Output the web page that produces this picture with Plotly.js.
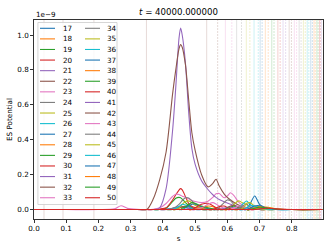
<!DOCTYPE html>
<html><head><meta charset="utf-8">
<script src="https://cdn.plot.ly/plotly-3.0.1.min.js"></script>
<style>html,body{margin:0;padding:0;background:#fff;}#chart{width:332px;height:249px;}</style>
</head><body><div id="chart"></div>
<script>
// arc-length coordinate s (shared grid)
const S = [0.00,0.10,0.20,0.25,0.27,0.29,0.32,0.35, 0.37,0.39,0.41,0.43,0.44,0.45,0.455,0.46,0.47,0.48,0.49, 0.50,0.52,0.54,0.555,0.565,0.575,0.59,0.60,0.61,0.62,0.635, 0.65,0.66,0.67,0.685,0.70,0.72,0.75,0.80,0.895];
// ES potential per series, in units of 1e-9
const Y17 = [0,0,0,0,0,0,0,0, 0,0,0.003,0.008,0.012,0.015,0.016,0.015,0.012,0.008,0.004, 0,0,0,0,0,0,0,0,0,0,0, 0,0,0,0,0,0,0,0,0];
const Y18 = [0,0,0,0,0,0,0,0, 0,0,0,0,0.004,0.008,0.01,0.013,0.018,0.015,0.01, 0.005,0,0,0,0,0,0,0,0,0,0, 0,0,0,0,0,0,0,0,0];
const Y19 = [0,0,0,0,0,0,0,0, 0,0,0.008,0.045,0.065,0.07,0.068,0.06,0.04,0.022,0.012, 0.006,0.003,0,0,0,0,0,0,0,0,0, 0,0,0,0,0,0,0,0,0];
const Y20 = [0,0,0,0,0,0,0,0, 0,0.003,0.01,0.055,0.085,0.112,0.12,0.113,0.075,0.035,0.018, 0.012,0.008,0.005,0.003,0,0,0,0,0,0,0, 0,0,0,0,0,0,0,0,0];
const Y21 = [0,0,0,0,0,0,0,0, 0,0,0,0.005,0.01,0.018,0.02,0.018,0.012,0.006,0, 0,0,0,0,0,0,0,0,0,0,0, 0,0,0,0,0,0,0,0,0];
const Y22 = [0,0,0,0,0,0,0,0, 0,0,0,0,0,0.01,0.013,0.016,0.02,0.018,0.01, 0.005,0,0,0,0,0,0,0,0,0,0, 0,0,0,0,0,0,0,0,0];
const Y23 = [0,0,0,0.004,0.022,0.007,0.001,0, 0.002,0.01,0.035,0.075,0.088,0.086,0.082,0.077,0.07,0.062,0.052, 0.046,0.04,0.048,0.07,0.09,0.092,0.068,0.078,0.096,0.082,0.042, 0.02,0.01,0.005,0.002,0,0,0,0,0];
const Y24 = [0,0,0,0,0,0,0,0, 0,0,0,0.008,0.015,0.03,0.04,0.052,0.068,0.066,0.05, 0.032,0.014,0.005,0,0,0,0,0,0,0,0, 0,0,0,0,0,0,0,0,0];
const Y25 = [0,0,0,0,0,0,0,0, 0,0,0,0,0,0.01,0.018,0.03,0.045,0.05,0.04, 0.025,0.01,0.003,0,0,0,0,0,0,0,0, 0,0,0,0,0,0,0,0,0];
const Y26 = [0,0,0,0,0,0,0,0, 0,0,0,0,0.008,0.018,0.024,0.03,0.026,0.016,0.008, 0.004,0,0,0,0,0,0,0,0,0,0, 0,0,0,0,0,0,0,0,0];
const Y27 = [0,0,0,0,0,0,0,0, 0,0,0,0,0,0,0,0,0.01,0.02,0.03, 0.032,0.016,0.005,0,0,0,0,0,0,0,0, 0,0,0,0,0,0,0,0,0];
const Y28 = [0,0,0,0,0,0,0,0, 0,0,0,0,0,0,0,0,0,0,0, 0.004,0.01,0.02,0.016,0.008,0.003,0,0,0,0,0, 0,0,0,0,0,0,0,0,0];
const Y29 = [0,0,0,0,0,0,0,0, 0,0,0,0,0,0,0,0.008,0.015,0.03,0.04, 0.036,0.02,0.01,0.004,0,0,0,0,0,0,0, 0,0,0,0,0,0,0,0,0];
const Y30 = [0,0,0,0,0,0,0,0, 0,0,0,0,0,0,0,0,0,0,0, 0.01,0.03,0.036,0.022,0.012,0.005,0,0,0,0,0, 0,0,0,0,0,0,0,0,0];
const Y31 = [0,0,0,0,0,0,0,0, 0,0.01,0.12,0.45,0.70,0.98,1.04,1.00,0.84,0.56,0.35, 0.26,0.165,0.115,0.085,0.07,0.058,0.045,0.038,0.03,0.025,0.018, 0.013,0.01,0.007,0.004,0.002,0,0,0,0];
const Y32 = [0,0,0,0,0,0,0,0, 0.06,0.17,0.33,0.66,0.80,0.92,0.945,0.93,0.83,0.63,0.44, 0.34,0.20,0.13,0.15,0.174,0.135,0.09,0.07,0.055,0.042,0.026, 0.015,0.01,0.006,0.003,0,0,0,0,0];
const Y33 = [0,0,0,0,0,0,0,0, 0,0,0,0,0,0,0,0,0,0,0, 0,0.01,0.03,0.04,0.032,0.02,0.008,0,0,0,0, 0,0,0,0,0,0,0,0,0];
const Y34 = [0,0,0,0,0,0,0,0, 0,0,0,0,0,0,0,0,0,0,0, 0,0,0,0,0.004,0.012,0.04,0.055,0.05,0.03,0.01, 0.003,0,0,0,0,0,0,0,0];
const Y35 = [0,0,0,0,0,0,0,0, 0,0,0,0,0,0,0,0,0,0,0, 0,0,0,0,0,0,0,0,0.01,0.028,0.05, 0.036,0.03,0.015,0.005,0,0,0,0,0];
const Y36 = [0,0,0,0,0,0,0,0, 0,0,0,0,0,0,0,0,0,0,0, 0,0,0,0,0,0,0,0,0,0,0.01, 0.035,0.049,0.03,0.01,0.003,0,0,0,0];
const Y37 = [0,0,0,0,0,0,0,0, 0,0,0,0,0,0,0,0,0,0,0, 0,0,0,0,0,0,0,0,0,0,0, 0,0.005,0.03,0.078,0.03,0.006,0,0,0];
const Y38 = [0,0,0,0,0,0,0,0, 0,0,0,0,0,0,0,0,0,0,0, 0,0,0,0,0,0,0,0,0,0,0, 0,0,0,0.01,0.02,0.01,0.002,0,0];
const Y39 = [0,0,0,0,0,0,0,0, 0,0,0,0,0,0,0,0,0,0,0, 0,0,0,0,0,0,0,0.008,0.015,0.02,0.014, 0.005,0,0,0,0,0,0,0,0];
const Y40 = [0,0,0,0,0,0,0,0, 0,0,0,0,0,0,0,0,0,0,0, 0,0,0,0,0.008,0.018,0.02,0.012,0.005,0,0, 0,0,0,0,0,0,0,0,0];
const Y41 = [0,0,0,0,0,0,0,0, 0,0,0,0,0,0,0,0,0,0,0, 0,0,0,0,0,0,0.008,0.012,0.015,0.01,0.004, 0,0,0,0,0,0,0,0,0];
const Y42 = [0,0,0,0,0,0,0,0, 0,0,0,0,0,0,0,0,0,0,0, 0,0,0,0,0,0,0,0.012,0.02,0.025,0.012, 0.004,0,0,0,0,0,0,0,0];
const Y43 = [0,0,0,0,0,0,0,0, 0,0,0,0,0,0,0,0,0,0,0, 0,0,0,0,0,0,0,0,0,0.008,0.02, 0.016,0.006,0,0,0,0,0,0,0];
const Y44 = [0,0,0,0,0,0,0,0, 0,0,0,0,0,0,0,0,0,0,0, 0,0,0,0,0,0,0,0,0,0,0.008, 0.024,0.03,0.016,0.005,0,0,0,0,0];
const Y45 = [0,0,0,0,0,0,0,0, 0,0,0,0,0,0,0,0,0,0,0, 0,0,0,0,0,0,0,0,0,0,0, 0.01,0.035,0.04,0.02,0.008,0,0,0,0];
const Y46 = [0,0,0,0,0,0,0,0, 0,0,0,0,0,0,0,0,0,0,0, 0,0,0,0,0,0,0,0,0,0,0, 0,0.01,0.024,0.02,0.01,0.003,0,0,0];
const Y47 = [0,0,0,0,0,0,0,0, 0,0,0,0,0,0,0,0,0,0,0, 0,0,0,0,0,0,0,0,0,0,0, 0,0,0.008,0.02,0.025,0.01,0.002,0,0];
const Y48 = [0,0,0,0,0,0,0,0, 0,0,0,0,0,0,0,0,0,0,0, 0,0,0,0,0,0,0,0,0,0,0, 0,0,0,0.005,0.01,0.015,0.005,0,0];
const Y49 = [0,0,0,0,0,0,0,0, 0,0,0,0,0,0,0,0,0,0,0, 0,0,0,0,0,0,0,0,0,0,0, 0,0,0,0.008,0.014,0.01,0.003,0,0];
const Y50 = [0,0,0,0,0,0,0,0, 0,0,0,0,0,0,0,0,0,0,0, 0,0,0,0,0,0,0,0,0,0,0, 0,0,0,0,0.004,0.008,0.004,0,0];

const seriesNames = ['17','18','19','20','21','22','23','24','25','26','27','28','29','30','31','32','33',
                     '34','35','36','37','38','39','40','41','42','43','44','45','46','47','48','49','50'];
const seriesValues = [Y17,Y18,Y19,Y20,Y21,Y22,Y23,Y24,Y25,Y26,Y27,Y28,Y29,Y30,Y31,Y32,Y33,
                      Y34,Y35,Y36,Y37,Y38,Y39,Y40,Y41,Y42,Y43,Y44,Y45,Y46,Y47,Y48,Y49,Y50];
const palette = ['#1f77b4','#ff7f0e','#2ca02c','#d62728','#9467bd','#8c564b','#e377c2','#7f7f7f','#bcbd22','#17becf'];

// vertical marker lines: position, palette index, dashed flag
const vlineS = [0.031,0.090,0.186,0.349,
  0.536,0.570,0.594,0.614,0.629,0.644,0.659,0.670,0.683,0.696,
  0.702,0.708,0.718,0.727,0.738,0.745,0.757,0.764,0.773,0.781,
  0.792,0.799,0.808,0.815,0.823,0.829,0.836,0.842,0.848,0.853,
  0.859,0.864,0.869,0.873,0.878,0.882,0.886,0.889,0.892];
const vlineColor = [5,5,5,5,
  5,5,6,6,7,7,8,8,9,9,
  0,0,1,1,2,2,3,3,4,4,
  5,5,6,6,7,7,8,8,9,9,
  0,0,1,1,2,2,3,3,4];
const vlineDashed = [0,0,0,0,
  0,1,0,1,0,1,0,1,0,1,
  0,1,0,1,0,1,0,1,0,1,
  0,1,0,1,0,1,0,1,0,1,
  0,1,0,1,0,1,0,1,0];

const xTickVals = [0,0.1,0.2,0.3,0.4,0.5,0.6,0.7,0.8];
const xTickText = ['0.0','0.1','0.2','0.3','0.4','0.5','0.6','0.7','0.8'];
const yTickVals = [0,0.2,0.4,0.6,0.8,1.0];
const yTickText = ['0.0','0.2','0.4','0.6','0.8','1.0'];
const titleText = '<i>t</i> = 40000.000000';
const offsetText = '1e\u22129';
const xLabel = 's';
const yLabel = 'ES Potential';

function rgba(hex, a){
  const n = parseInt(hex.slice(1),16);
  return 'rgba('+((n>>16)&255)+','+((n>>8)&255)+','+(n&255)+','+a+')';
}

const W = 332, H = 249;
const M = {l:34, r:9, t:20, b:30};
const pw = W - M.l - M.r, ph = H - M.t - M.b;
const px = x => (x - M.l) / pw;
const py = y => (H - M.b - y) / ph;
const FONT = 'DejaVu Sans, sans-serif';
const FS = 7.2;

const traces = seriesValues.map((vals, i) => ({
  type:'scatter', mode:'lines', x:S, y:vals, name:seriesNames[i],
  line:{color:palette[i % 10], width:1.1, shape:'spline', smoothing:0.8},
  hoverinfo:'skip', showlegend:false
}));

const shapes = vlineS.map((s, i) => ({
  type:'line', xref:'x', yref:'paper', x0:s, x1:s, y0:0, y1:1, layer:'below',
  line:{color:rgba(palette[vlineColor[i]], 0.22), width:1, dash: vlineDashed[i] ? '2px,1px' : 'solid'}
}));

// legend (two columns, drawn by hand for compact row spacing)
const annotations = [];
const legTop = 28.3, legStep = 10.59;
shapes.push({type:'rect', xref:'paper', yref:'paper', x0:px(37.9), x1:px(117), y0:py(22.5), y1:py(204.5),
  layer:'above', line:{color:'#cccccc', width:0.8}, fillcolor:'rgba(255,255,255,0.8)'});
const cols = [{h0:40, h1:55, t:61}, {h0:85, h1:100, t:105}];
seriesNames.forEach((nm, i) => {
  const c = cols[Math.floor(i / 17)], r = i % 17;
  const yy = legTop + r * legStep;
  shapes.push({type:'line', xref:'paper', yref:'paper', layer:'above',
    x0:px(c.h0), x1:px(c.h1), y0:py(yy), y1:py(yy), line:{color:palette[i % 10], width:1.1}});
  annotations.push({xref:'paper', yref:'paper', x:px(c.t), y:py(yy), text:nm, showarrow:false,
    xanchor:'left', yanchor:'middle', font:{family:FONT, size:FS, color:'#000'}});
});
annotations.push({xref:'paper', yref:'paper', x:0, y:py(14.7), text:offsetText, showarrow:false,
  xanchor:'left', yanchor:'middle', font:{family:FONT, size:FS, color:'#000'}});

const axisCommon = {showgrid:false, zeroline:false, showline:true, linecolor:'#000', linewidth:0.8,
  mirror:true, ticks:'outside', ticklen:3, tickwidth:0.8, tickcolor:'#000',
  tickfont:{family:FONT, size:FS, color:'#000'}, tickmode:'array'};

const layout = {
  width:W, height:H, margin:M, paper_bgcolor:'#fff', plot_bgcolor:'#fff',
  showlegend:false,
  title:{text:titleText, x:0.5, xref:'paper', xanchor:'center', y:1 - 12/H, yref:'container', yanchor:'middle',
    font:{family:FONT, size:8.6, color:'#000'}},
  xaxis:Object.assign({}, axisCommon, {range:[0, 0.897], tickvals:xTickVals, ticktext:xTickText,
    title:{text:xLabel, font:{family:FONT, size:FS, color:'#000'}, standoff:3}}),
  yaxis:Object.assign({}, axisCommon, {range:[-0.054, 1.086], tickvals:yTickVals, ticktext:yTickText,
    title:{text:yLabel, font:{family:FONT, size:FS, color:'#000'}, standoff:3}}),
  shapes:shapes, annotations:annotations
};

Plotly.newPlot('chart', traces, layout, {staticPlot:true, displayModeBar:false});
</script></body></html>
